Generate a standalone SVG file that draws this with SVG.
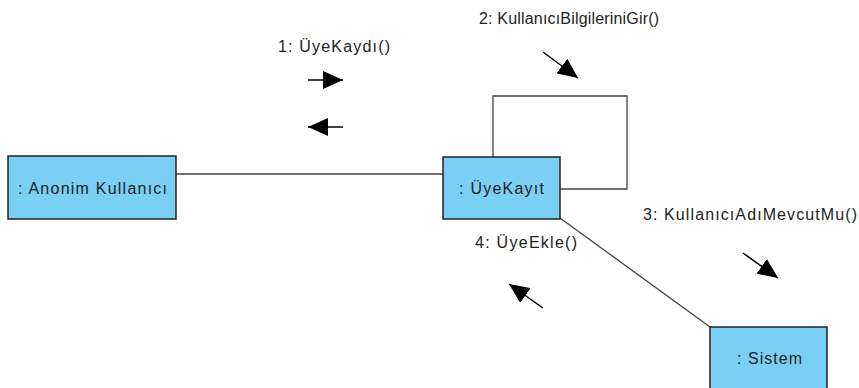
<svg xmlns="http://www.w3.org/2000/svg" width="859" height="388" viewBox="0 0 859 388">
<style>
.node{fill:#7ACFF5;stroke:#222;stroke-width:1.5}
.lnk{fill:none;stroke:#444;stroke-width:1.3}
.msg{fill:none;stroke:#000;stroke-width:1.5;marker-end:url(#ah)}
text{font-family:"Liberation Sans",Arial,sans-serif;font-size:16px;fill:#222}
</style>
<defs>
<marker id="ah" markerUnits="userSpaceOnUse" markerWidth="20" markerHeight="18" refX="20" refY="9" orient="auto">
<path d="M0,0 L20,9 L0,18 z" fill="#000"/>
</marker>
</defs>
<rect width="859" height="388" fill="#fff"/>
<g id="connectors">
<line class="lnk" x1="176" y1="174" x2="443" y2="174"/>
<path class="lnk" d="M493,157 V96 H627 V189 H560"/>
<line class="lnk" x1="560" y1="218" x2="710" y2="327"/>
<line class="msg" x1="308" y1="80" x2="343" y2="80"/>
<line class="msg" x1="343" y1="127" x2="308" y2="127"/>
<line class="msg" x1="543" y1="52" x2="578" y2="78"/>
<line class="msg" x1="743" y1="253" x2="778" y2="278"/>
<line class="msg" x1="543" y1="308" x2="509" y2="284"/>
<text x="278" y="52" textLength="112" lengthAdjust="spacing">1: ÜyeKaydı()</text>
<text x="479" y="24" textLength="180" lengthAdjust="spacing">2: KullanıcıBilgileriniGir()</text>
<text x="643" y="220" textLength="214" lengthAdjust="spacing">3: KullanıcıAdıMevcutMu()</text>
<text x="475" y="248" textLength="102" lengthAdjust="spacing">4: ÜyeEkle()</text>
</g>
<g id="anonim">
<rect class="node" x="8" y="156" width="168" height="63"/>
<text x="18" y="194" textLength="149" lengthAdjust="spacing">: Anonim Kullanıcı</text>
</g>
<g id="uyekayit">
<rect class="node" x="443" y="157" width="117" height="62"/>
<text x="459" y="194" textLength="85" lengthAdjust="spacing">: ÜyeKayıt</text>
</g>
<g id="sistem">
<rect class="node" x="710" y="327" width="117" height="63"/>
<text x="737" y="364" textLength="65" lengthAdjust="spacing">: Sistem</text>
</g>
</svg>
